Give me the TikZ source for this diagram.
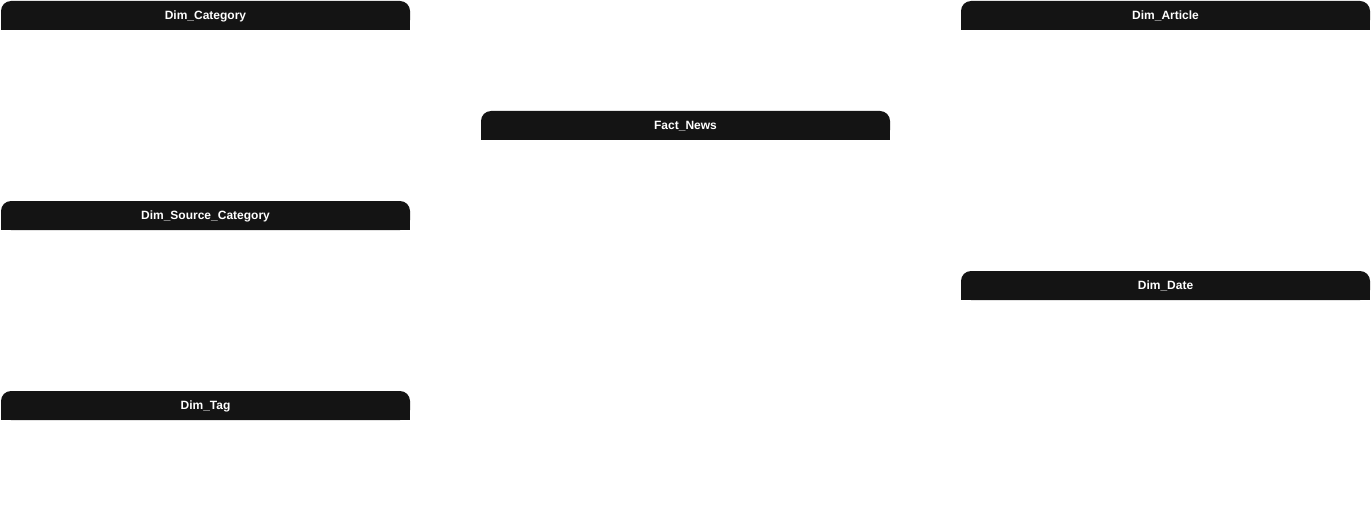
\documentclass[tikz,border=0pt]{standalone}
\usepackage{fontspec}
\setmainfont{Liberation Sans}
\usetikzlibrary{backgrounds}
\definecolor{barfill}{HTML}{141414}
\begin{document}
\begin{tikzpicture}[x=1pt,y=-1pt,
  hdr/.style={text=white,font=\fontsize{12}{14}\selectfont\bfseries,
    minimum width=409pt,minimum height=29pt,inner sep=0pt,outer sep=0pt,
    text height=8.6pt,text depth=0pt}]
\useasboundingbox (0,0) rectangle (1371,532);
\node[hdr] (cat)  at (205.5,15.5)  {Dim\_Category};
\node[hdr] (src)  at (205.5,215.5) {Dim\_Source\_Category};
\node[hdr] (tag)  at (205.5,405.5) {Dim\_Tag};
\node[hdr] (fact) at (685.5,125.5) {Fact\_News};
\node[hdr] (art)  at (1165.5,15.5) {Dim\_Article};
\node[hdr] (date) at (1165.5,285.5) {Dim\_Date};
\begin{scope}[on background layer]
\fill[white] (0,0) rectangle (1371,532);
\foreach \n in {cat,src,tag,fact,art,date}{
  \fill[barfill,rounded corners=10pt] (\n.south west) rectangle (\n.north east);
  \fill[barfill] (\n.south west) rectangle (\n.east);
}
\end{scope}
\end{tikzpicture}
\end{document}
